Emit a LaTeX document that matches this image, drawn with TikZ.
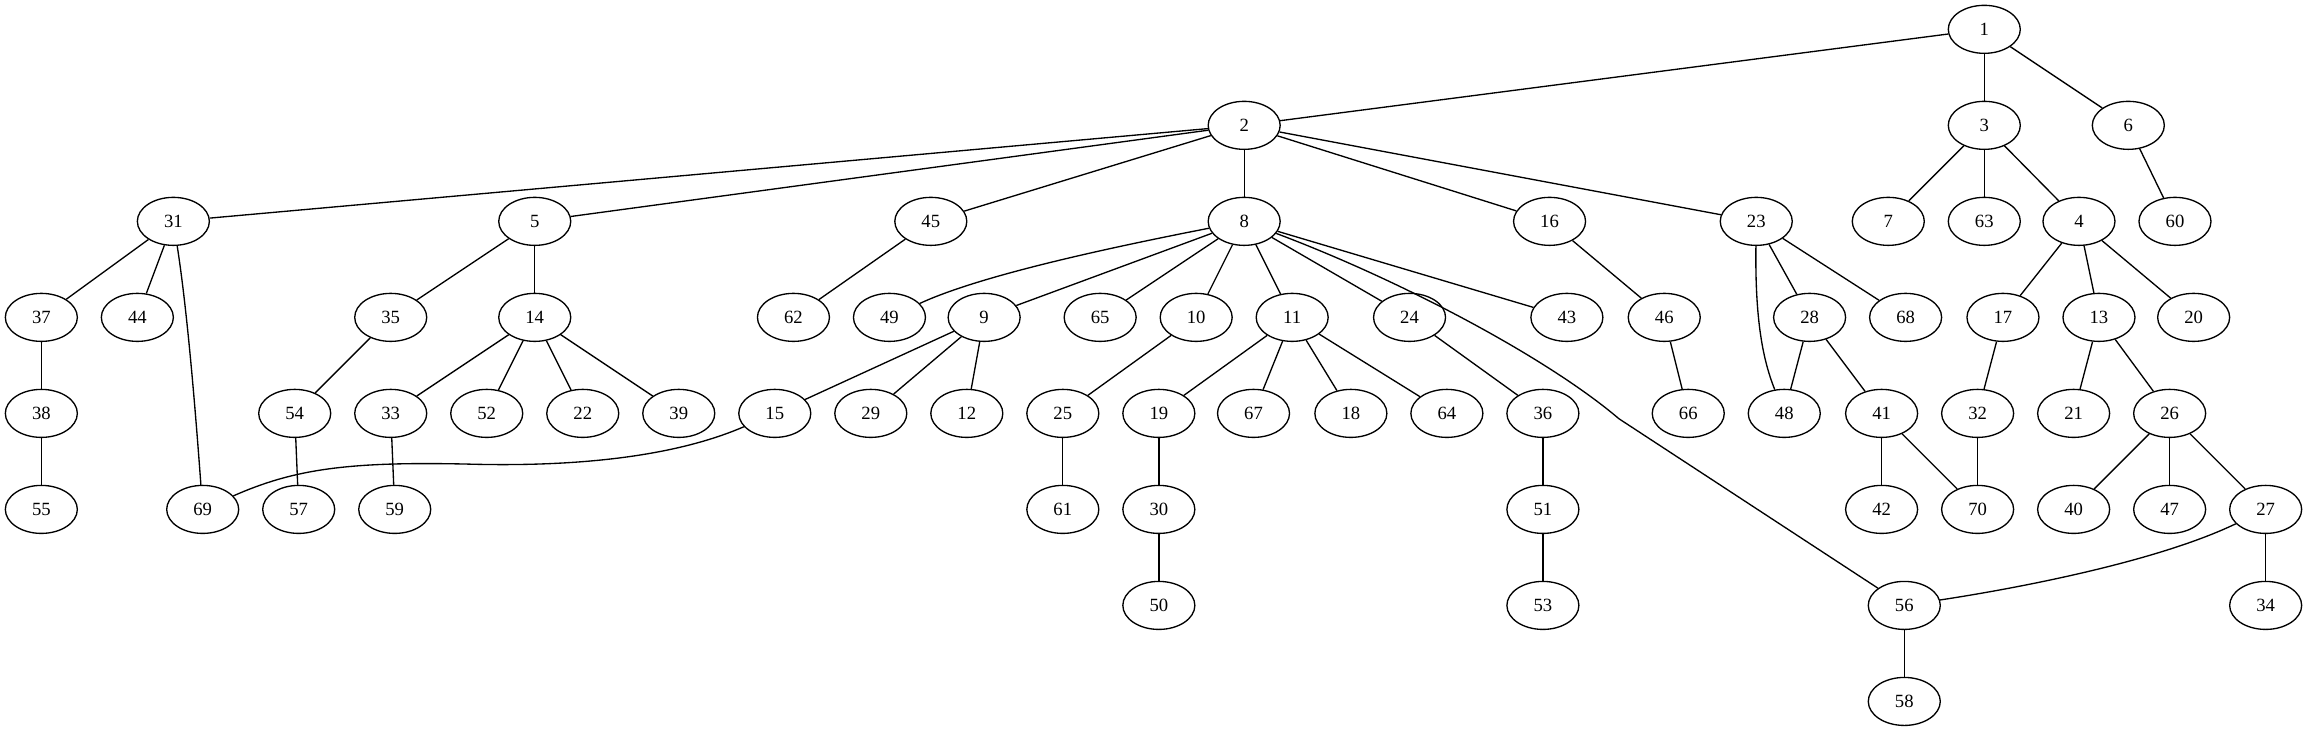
\documentclass[tikz,border=0pt]{standalone}
\usepackage{fontspec}
\setmainfont{Liberation Serif}
\usetikzlibrary{shapes.geometric}
\tikzset{
  vtx/.style={draw, ellipse, line width=1pt, minimum width=54pt, minimum height=36pt, inner sep=0pt, font=\fontsize{14}{16}\selectfont},
  edg/.style={line width=1pt}
}
\begin{document}
\begin{tikzpicture}[x=1pt,y=-1pt]
\useasboundingbox (0,0) rectangle (1730,548);
% row 0
\node[vtx] (n1) at (1488,22) {1};
% row 1
\node[vtx] (n2) at (933,94) {2};
\node[vtx] (n3) at (1488,94) {3};
\node[vtx] (n6) at (1596,94) {6};
% row 2
\node[vtx] (n31) at (130,166) {31};
\node[vtx] (n5) at (401,166) {5};
\node[vtx] (n45) at (698,166) {45};
\node[vtx] (n8) at (933,166) {8};
\node[vtx] (n16) at (1162,166) {16};
\node[vtx] (n23) at (1317,166) {23};
\node[vtx] (n7) at (1416,166) {7};
\node[vtx] (n63) at (1488,166) {63};
\node[vtx] (n4) at (1559,166) {4};
\node[vtx] (n60) at (1631,166) {60};
% row 3
\node[vtx] (n37) at (31,238) {37};
\node[vtx] (n44) at (103,238) {44};
\node[vtx] (n35) at (293,238) {35};
\node[vtx] (n14) at (401,238) {14};
\node[vtx] (n62) at (595,238) {62};
\node[vtx] (n49) at (667,238) {49};
\node[vtx] (n9) at (738,238) {9};
\node[vtx] (n65) at (825,238) {65};
\node[vtx] (n10) at (897,238) {10};
\node[vtx] (n11) at (969,238) {11};
\node[vtx] (n24) at (1057,238) {24};
\node[vtx] (n43) at (1175,238) {43};
\node[vtx] (n46) at (1248,238) {46};
\node[vtx] (n28) at (1357,238) {28};
\node[vtx] (n68) at (1429,238) {68};
\node[vtx] (n17) at (1502,238) {17};
\node[vtx] (n13) at (1574,238) {13};
\node[vtx] (n20) at (1645,238) {20};
% row 4
\node[vtx] (n38) at (31,310) {38};
\node[vtx] (n54) at (221,310) {54};
\node[vtx] (n33) at (293,310) {33};
\node[vtx] (n52) at (365,310) {52};
\node[vtx] (n22) at (437,310) {22};
\node[vtx] (n39) at (509,310) {39};
\node[vtx] (n15) at (581,310) {15};
\node[vtx] (n29) at (653,310) {29};
\node[vtx] (n12) at (725,310) {12};
\node[vtx] (n25) at (797,310) {25};
\node[vtx] (n19) at (869,310) {19};
\node[vtx] (n67) at (940,310) {67};
\node[vtx] (n18) at (1013,310) {18};
\node[vtx] (n64) at (1085,310) {64};
\node[vtx] (n36) at (1157,310) {36};
\node[vtx] (n66) at (1266,310) {66};
\node[vtx] (n48) at (1338,310) {48};
\node[vtx] (n41) at (1411,310) {41};
\node[vtx] (n32) at (1483,310) {32};
\node[vtx] (n21) at (1555,310) {21};
\node[vtx] (n26) at (1627,310) {26};
% row 5
\node[vtx] (n55) at (31,382) {55};
\node[vtx] (n69) at (152,382) {69};
\node[vtx] (n57) at (224,382) {57};
\node[vtx] (n59) at (296,382) {59};
\node[vtx] (n61) at (797,382) {61};
\node[vtx] (n30) at (869,382) {30};
\node[vtx] (n51) at (1157,382) {51};
\node[vtx] (n42) at (1411,382) {42};
\node[vtx] (n70) at (1483,382) {70};
\node[vtx] (n40) at (1555,382) {40};
\node[vtx] (n47) at (1627,382) {47};
\node[vtx] (n27) at (1699,382) {27};
% row 6
\node[vtx] (n50) at (869,454) {50};
\node[vtx] (n53) at (1157,454) {53};
\node[vtx] (n56) at (1428,454) {56};
\node[vtx] (n34) at (1699,454) {34};
% row 7
\node[vtx] (n58) at (1428,526) {58};

% straight edges
\foreach \a/\b in {1/2,1/3,1/6,2/31,2/5,2/45,2/8,2/16,2/23,3/7,3/63,3/4,6/60,
  31/37,31/44,5/35,5/14,45/62,8/9,8/65,8/10,8/11,8/24,8/43,16/46,23/28,23/68,
  4/17,4/13,4/20,37/38,35/54,14/33,14/52,14/22,14/39,9/15,9/29,9/12,10/25,
  11/19,11/67,11/18,11/64,24/36,46/66,28/48,28/41,17/32,13/21,13/26,38/55,
  54/57,33/59,25/61,19/30,36/51,41/42,41/70,32/70,26/40,26/47,26/27,30/50,
  51/53,27/34,56/58}
  \draw[edg] (n\a) -- (n\b);

% curved edges
\draw[edg] (n8) .. controls (810,190) and (730,209) .. (n49);
\draw[edg] (n8) .. controls (1050,210) and (1160,268) .. (1214,314) -- (n56);
\draw[edg] (n23) .. controls (1316,240) and (1322,270) .. (n48);
\draw[edg] (n31) .. controls (140,230) and (146,300) .. (n69);
\draw[edg] (n15) .. controls (500,345) and (420,350) .. (350,348) .. controls (260,346) and (220,352) .. (n69);
\draw[edg] (n27) .. controls (1620,420) and (1520,440) .. (n56);
\end{tikzpicture}
\end{document}
